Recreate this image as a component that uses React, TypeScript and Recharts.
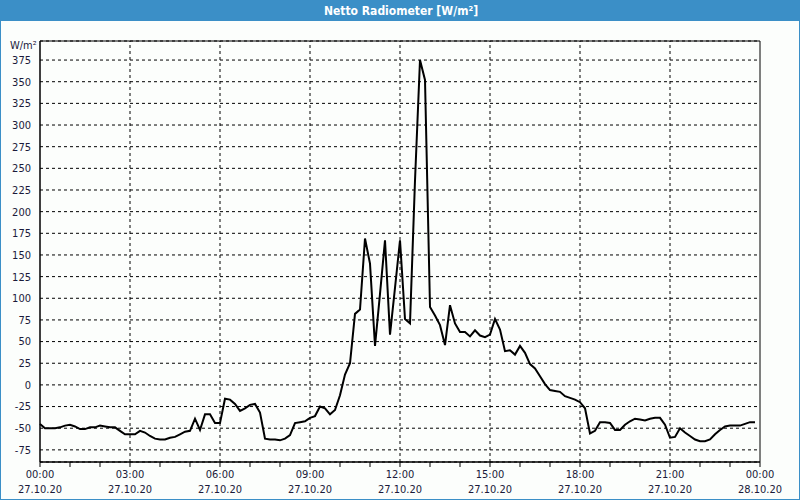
import React from 'react';
import { LineChart, Line, XAxis, YAxis, CartesianGrid, ReferenceLine, ReferenceArea } from 'recharts';

const values: number[] = [
  -45, -50, -50, -50, -49, -47, -46, -48, -51, -51, -49, -49,
  -47, -48, -49, -49, -53, -57, -57, -57, -53, -55, -59, -62,
  -63, -63, -61, -60, -57, -54, -53, -39, -52, -34, -34, -44,
  -44, -16, -17, -22, -30, -27, -23, -22, -32, -62, -63, -63,
  -64, -62, -58, -44, -43, -42, -38, -36, -25, -27, -34, -29,
  -12, 12, 25, 82, 87, 169, 140, 45, 105, 167, 58, 112,
  167, 76, 71, 236, 375, 352, 90, 80, 69, 46, 92, 71,
  61, 61, 56, 63, 57, 55, 58, 76, 64, 39, 40, 35,
  45, 37, 24, 19, 10, 1, -6, -7, -8, -13, -15, -17,
  -20, -27, -56, -53, -43, -43, -44, -52, -52, -46, -42, -39,
  -40, -41, -39, -38, -38, -46, -61, -60, -50, -55, -59, -63,
  -65, -65, -63, -57, -52, -48, -47, -47, -47, -45, -43, -43,
];
const stepMinutes = 10;
const hourTicks: number[] = Array.from({ length: 25 }, (_, i) => i * 60);
const majorTimes: number[] = [180, 360, 540, 720, 900, 1080, 1260];
const timeLabels: Record<number, string> = {
  0: '00:00', 180: '03:00', 360: '06:00', 540: '09:00', 720: '12:00',
  900: '15:00', 1080: '18:00', 1260: '21:00', 1440: '00:00',
};
const dateLabels: Record<number, string> = {
  0: '27.10.20', 180: '27.10.20', 360: '27.10.20', 540: '27.10.20', 720: '27.10.20',
  900: '27.10.20', 1080: '27.10.20', 1260: '27.10.20', 1440: '28.10.20',
};
const yTicks: number[] = [-75, -50, -25, 0, 25, 50, 75, 100, 125, 150, 175, 200, 225, 250, 275, 300, 325, 350, 375];
const yDomain: [number, number] = [-89, 397];

const data = values.map((v, i) => ({ t: i * stepMinutes, v }));

const FONT = "Tahoma, 'DejaVu Sans Condensed', 'Liberation Sans', sans-serif";
const TEXT = '#1a1a3a';

const XTick = (props: any) => {
  const { x, y, payload } = props;
  const val = payload.value as number;
  if (!(val in timeLabels)) return null;
  return (
    <g>
      <text x={x} y={y + 9} textAnchor="middle" fontSize={11} fontFamily={FONT} fill={TEXT}>
        {timeLabels[val]}
      </text>
      <text x={x} y={y + 24} textAnchor="middle" fontSize={11} fontFamily={FONT} fill={TEXT}>
        {dateLabels[val]}
      </text>
    </g>
  );
};

export default function App() {
  return (
    <div style={{ position: 'fixed', left: 0, top: 0, width: 800, height: 500, background: '#fcfefc', boxSizing: 'border-box', border: '1px solid #3b8fc7', overflow: 'hidden' }}>
      <div style={{ position: 'absolute', left: 0, top: 0, width: 800, height: 20, background: '#3b8fc7', color: '#fff', fontFamily: FONT, fontWeight: 'bold', fontSize: 12, lineHeight: '20px', textAlign: 'center' }}>
        Netto Radiometer [W/m²]
      </div>
      <div style={{ position: 'absolute', left: 9, top: 38, fontFamily: FONT, fontSize: 11, color: TEXT }}>W/m²</div>
      <div style={{ position: 'absolute', left: -1, top: -1 }}>
        <LineChart width={800} height={500} data={data} margin={{ top: 41, right: 40, bottom: 0, left: 0 }}>
          <CartesianGrid vertical={false} stroke="#000" strokeDasharray="3 3" />
          {majorTimes.map((t) => (
            <ReferenceLine key={t} x={t} stroke="#000" strokeDasharray="3 3" ifOverflow="visible" />
          ))}
          <XAxis
            dataKey="t"
            type="number"
            domain={[0, 1440]}
            ticks={hourTicks}
            interval={0}
            tick={<XTick />}
            tickSize={5}
            tickLine={{ stroke: '#000' }}
            axisLine={{ stroke: '#000' }}
            height={38}
          />
          <YAxis
            type="number"
            domain={yDomain}
            ticks={yTicks}
            interval={0}
            allowDataOverflow
            width={40}
            tickLine={false}
            axisLine={{ stroke: '#000' }}
            tickMargin={3}
            tick={{ fontSize: 11, fontFamily: FONT, fill: TEXT }}
          />
          <ReferenceArea x1={0} x2={1440} y1={yDomain[0]} y2={yDomain[1]} stroke="#000" fill="none" fillOpacity={0} ifOverflow="visible" />
          <Line type="linear" dataKey="v" stroke="#000" strokeWidth={2} dot={false} isAnimationActive={false} />
        </LineChart>
      </div>
    </div>
  );
}
